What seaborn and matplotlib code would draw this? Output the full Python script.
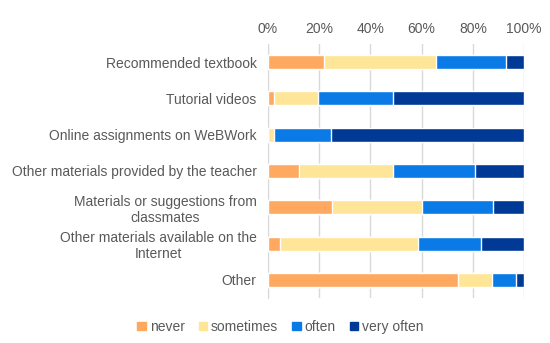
import numpy as np
import pandas as pd
import seaborn as sns
import matplotlib.pyplot as plt
from matplotlib.patches import Patch

categories = ['Recommended textbook', 'Tutorial videos', 'Online assignments on WeBWork',
              'Other materials provided by the teacher', 'Materials or suggestions from\nclassmates',
              'Other materials available on the\nInternet', 'Other']
never = [21.9, 2.3, 0.0, 12.1, 25.0, 4.7, 74.3]
sometimes = [43.9, 17.3, 2.3, 36.8, 35.0, 54.0, 13.1]
often = [27.2, 29.4, 22.2, 31.9, 27.9, 24.5, 9.6]
very_often = [7.0, 51.0, 75.5, 19.2, 12.1, 16.8, 3.0]

series = ['never', 'sometimes', 'often', 'very often']
colors = ['#FFA85F', '#FFE597', '#0A7BE6', '#003A96']

df = pd.DataFrame({'category': categories, 'never': never, 'sometimes': sometimes,
                   'often': often, 'very often': very_often})
cum = df[series].cumsum(axis=1)

sns.set_style('white')
plt.rcParams['font.family'] = ['Liberation Sans', 'DejaVu Sans']
fig, ax = plt.subplots(figsize=(5.5, 3.43), dpi=100)
fig.subplots_adjust(left=0.487, right=0.953, top=0.872, bottom=0.131)

# stacked bars: draw the running totals from the outermost segment inwards
for name, col in reversed(list(zip(series, colors))):
    sns.barplot(x=cum[name], y=df['category'], color=col, width=0.39, saturation=1,
                orient='h', ax=ax, zorder=3)

ax.set_xlim(0, 100)
ax.set_ylim(6.5, -0.5)
ax.set_xticks(np.arange(0, 101, 20))
ax.set_xticklabels([f'{v}%' for v in range(0, 101, 20)])
ax.set_yticks(range(len(categories)))
ax.set_yticklabels(categories, multialignment='center')
ax.xaxis.tick_top()
ax.tick_params(axis='y', length=0, labelsize=10, colors='#595959', pad=8)
ax.tick_params(axis='x', length=0, labelsize=10, colors='#595959', pad=6)
ax.grid(axis='x', color='#D9D9D9', linewidth=1, zorder=0)
ax.set_xlabel('')
ax.set_ylabel('')
for s in ['top', 'right', 'bottom']:
    ax.spines[s].set_visible(False)
ax.spines['left'].set_color('#D9D9D9')

handles = [Patch(color=c, label=s) for s, c in zip(series, colors)]
fig.legend(handles=handles, loc='lower center', bbox_to_anchor=(0.51, -0.01), ncol=4,
           frameon=False, fontsize=10, handlelength=0.6, handleheight=0.6,
           handletextpad=0.3, columnspacing=1.0, labelcolor='#595959')

fig.savefig('out.png', dpi=100)
